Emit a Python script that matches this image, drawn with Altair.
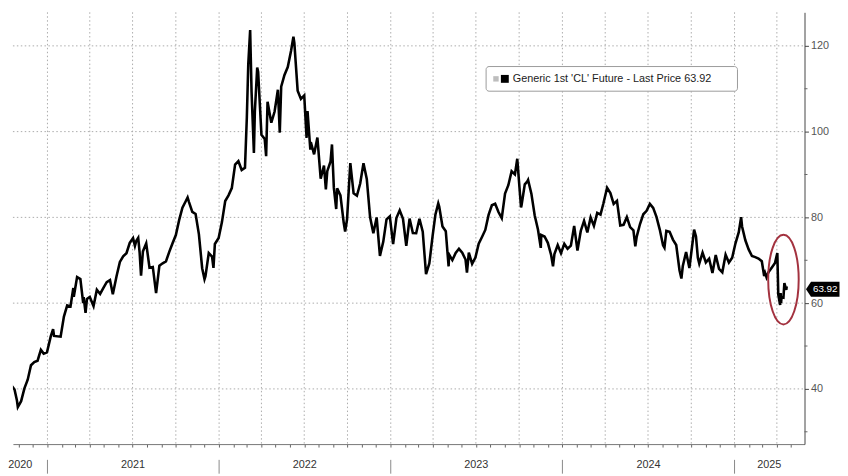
import altair as alt
import pandas as pd

# ---------------- data ----------------
dates_2020 = ["2020-10-02", "2020-10-09", "2020-10-16", "2020-10-23", "2020-10-28", "2020-10-30",
              "2020-11-06", "2020-11-13", "2020-11-20", "2020-11-27", "2020-12-04", "2020-12-11",
              "2020-12-18", "2020-12-24", "2020-12-31"]
prices_2020 = [37.05, 40.60, 40.88, 39.85, 37.39, 35.79,
               37.14, 40.13, 42.15, 45.53, 46.26, 46.57,
               49.10, 48.23, 48.52]

dates_2021 = ["2021-01-08", "2021-01-13", "2021-01-15", "2021-01-22", "2021-01-29", "2021-02-05",
              "2021-02-12", "2021-02-19", "2021-02-25", "2021-02-26", "2021-03-05", "2021-03-12",
              "2021-03-18", "2021-03-19", "2021-03-23", "2021-03-26", "2021-04-01", "2021-04-09",
              "2021-04-16", "2021-04-23", "2021-04-30", "2021-05-07", "2021-05-14", "2021-05-20",
              "2021-05-28", "2021-06-04", "2021-06-11", "2021-06-18", "2021-06-25", "2021-07-02",
              "2021-07-06", "2021-07-09", "2021-07-13", "2021-07-16", "2021-07-19", "2021-07-23",
              "2021-07-30", "2021-08-06", "2021-08-13", "2021-08-20", "2021-08-27", "2021-09-03",
              "2021-09-10", "2021-09-17", "2021-09-24", "2021-10-01", "2021-10-08", "2021-10-15",
              "2021-10-22", "2021-10-26", "2021-10-29", "2021-11-05", "2021-11-12", "2021-11-19",
              "2021-11-26", "2021-12-01", "2021-12-03", "2021-12-10", "2021-12-17", "2021-12-20",
              "2021-12-23", "2021-12-31"]
prices_2021 = [52.24, 53.91, 52.36, 52.27, 52.20, 56.85,
               59.47, 59.24, 63.53, 61.50, 66.09, 65.61,
               60.00, 61.42, 57.76, 60.97, 61.45, 59.32,
               63.13, 62.14, 63.58, 64.90, 65.37, 62.05,
               66.32, 69.62, 70.91, 71.64, 74.05, 75.16,
               73.37, 74.56, 75.25, 71.81, 66.42, 72.07,
               73.95, 68.28, 68.44, 62.32, 68.74, 69.29,
               69.72, 71.97, 73.98, 75.88, 79.35, 82.28,
               83.76, 84.65, 83.57, 81.27, 80.79, 76.10,
               68.15, 65.57, 66.26, 71.67, 70.86, 68.23,
               73.79, 75.21]

dates_2022 = ["2022-01-07", "2022-01-14", "2022-01-21", "2022-01-28", "2022-02-04", "2022-02-11",
              "2022-02-18", "2022-02-25", "2022-03-01", "2022-03-04", "2022-03-08", "2022-03-11",
              "2022-03-16", "2022-03-18", "2022-03-23", "2022-03-25", "2022-04-01", "2022-04-08",
              "2022-04-11", "2022-04-14", "2022-04-22", "2022-04-29", "2022-05-06", "2022-05-10",
              "2022-05-13", "2022-05-20", "2022-05-27", "2022-06-03", "2022-06-08", "2022-06-10",
              "2022-06-17", "2022-06-24", "2022-07-01", "2022-07-06", "2022-07-08", "2022-07-14",
              "2022-07-15", "2022-07-22", "2022-07-29", "2022-08-05", "2022-08-12", "2022-08-16",
              "2022-08-19", "2022-08-26", "2022-08-29", "2022-09-02", "2022-09-07", "2022-09-09",
              "2022-09-16", "2022-09-23", "2022-09-26", "2022-09-30", "2022-10-07", "2022-10-14",
              "2022-10-21", "2022-10-28", "2022-11-04", "2022-11-11", "2022-11-18", "2022-11-25",
              "2022-12-02", "2022-12-09", "2022-12-16", "2022-12-23", "2022-12-30"]
prices_2022 = [78.90, 83.82, 85.14, 86.82, 92.31, 93.10,
               91.07, 91.59, 103.41, 115.68, 123.70, 109.33,
               95.04, 104.70, 114.93, 113.90, 99.27, 98.26,
               94.29, 106.95, 102.07, 104.69, 109.77, 99.76,
               110.49, 113.23, 115.07, 118.87, 122.11, 120.67,
               109.56, 107.62, 108.43, 98.53, 104.79, 95.78,
               97.59, 94.70, 98.62, 89.01, 92.09, 86.53,
               90.77, 93.06, 97.01, 86.87, 81.94, 86.79,
               85.11, 78.74, 76.71, 79.49, 92.64, 85.61,
               85.05, 87.90, 92.61, 88.96, 80.08, 76.28,
               79.98, 71.02, 74.29, 79.56, 80.26]

dates_2023 = ["2023-01-06", "2023-01-13", "2023-01-20", "2023-01-27", "2023-02-03", "2023-02-10",
              "2023-02-17", "2023-02-24", "2023-03-03", "2023-03-10", "2023-03-17", "2023-03-24",
              "2023-03-31", "2023-04-06", "2023-04-12", "2023-04-14", "2023-04-21", "2023-04-28",
              "2023-05-04", "2023-05-05", "2023-05-12", "2023-05-19", "2023-05-26", "2023-06-02",
              "2023-06-09", "2023-06-12", "2023-06-16", "2023-06-23", "2023-06-30", "2023-07-07",
              "2023-07-14", "2023-07-21", "2023-07-28", "2023-08-04", "2023-08-11", "2023-08-18",
              "2023-08-25", "2023-09-01", "2023-09-08", "2023-09-15", "2023-09-22", "2023-09-27",
              "2023-09-29", "2023-10-05", "2023-10-06", "2023-10-13", "2023-10-18", "2023-10-20",
              "2023-10-27", "2023-11-03", "2023-11-10", "2023-11-16", "2023-11-17", "2023-11-24",
              "2023-12-01", "2023-12-08", "2023-12-12", "2023-12-15", "2023-12-22", "2023-12-29"]
prices_2023 = [73.77, 79.86, 81.64, 79.68, 73.39, 79.72,
               76.34, 76.32, 79.68, 76.68, 66.74, 69.26,
               75.67, 80.70, 83.26, 82.52, 77.87, 76.78,
               68.56, 71.34, 70.04, 71.69, 72.67, 71.74,
               70.17, 67.12, 71.78, 69.16, 70.64, 73.86,
               75.42, 77.07, 80.58, 82.82, 83.19, 81.25,
               79.83, 85.55, 87.51, 90.77, 90.03, 93.68,
               90.79, 82.31, 82.79, 87.69, 88.32, 88.75,
               85.54, 80.51, 77.17, 72.90, 75.89, 75.54,
               74.07, 71.23, 68.61, 71.43, 73.56, 71.65]

dates_2024 = ["2024-01-05", "2024-01-12", "2024-01-19", "2024-01-26", "2024-02-02", "2024-02-09",
              "2024-02-16", "2024-02-23", "2024-03-01", "2024-03-08", "2024-03-15", "2024-03-22",
              "2024-03-28", "2024-04-05", "2024-04-12", "2024-04-19", "2024-04-26", "2024-05-03",
              "2024-05-10", "2024-05-17", "2024-05-24", "2024-05-31", "2024-06-04", "2024-06-07",
              "2024-06-14", "2024-06-21", "2024-06-28", "2024-07-05", "2024-07-12", "2024-07-19",
              "2024-07-26", "2024-08-02", "2024-08-05", "2024-08-09", "2024-08-16", "2024-08-23",
              "2024-08-30", "2024-09-06", "2024-09-10", "2024-09-13", "2024-09-20", "2024-09-27",
              "2024-10-04", "2024-10-07", "2024-10-11", "2024-10-15", "2024-10-18", "2024-10-25",
              "2024-11-01", "2024-11-08", "2024-11-15", "2024-11-22", "2024-11-29", "2024-12-06",
              "2024-12-13", "2024-12-20", "2024-12-27"]
prices_2024 = [73.81, 72.68, 73.41, 78.01, 72.28, 76.84,
               79.19, 76.49, 79.97, 78.01, 81.04, 80.63,
               83.17, 86.91, 85.66, 83.14, 83.85, 78.11,
               78.26, 80.06, 77.72, 76.99, 73.25, 75.53,
               78.45, 80.73, 81.54, 83.16, 82.21, 80.13,
               77.16, 73.52, 72.94, 76.84, 76.65, 74.83,
               73.55, 67.67, 65.75, 68.65, 71.92, 68.18,
               74.38, 77.14, 75.56, 70.58, 69.22, 71.78,
               69.49, 70.38, 67.02, 71.24, 68.00, 67.20,
               71.29, 69.46, 70.60]

dates_2025 = ["2025-01-03", "2025-01-10", "2025-01-15", "2025-01-17", "2025-01-24", "2025-01-31",
              "2025-02-07", "2025-02-14", "2025-02-21", "2025-02-28", "2025-03-05", "2025-03-07",
              "2025-03-10", "2025-03-14", "2025-03-21", "2025-03-28", "2025-04-02", "2025-04-03",
              "2025-04-04", "2025-04-08", "2025-04-09", "2025-04-10", "2025-04-11", "2025-04-15",
              "2025-04-17", "2025-04-21", "2025-04-22"]
prices_2025 = [73.96, 76.57, 80.04, 77.88, 74.66, 72.53,
               71.00, 70.74, 70.40, 69.76, 66.31, 67.04,
               66.03, 67.18, 68.28, 69.36, 71.71, 66.95,
               61.99, 59.58, 62.35, 60.07, 61.50, 61.33,
               64.68, 63.08, 63.92]

last_price = 63.92
series_name = "Generic 1st 'CL' Future - Last Price 63.92"

y_major = [40, 60, 80, 100, 120]
y_minor = [30, 50, 70, 90, 110]
year_starts = ["2021-01-01", "2022-01-01", "2023-01-01", "2024-01-01", "2025-01-01"]
quarter_starts = ["2021-01-01", "2021-04-01", "2021-07-01", "2021-10-01",
                  "2022-01-01", "2022-04-01", "2022-07-01", "2022-10-01",
                  "2023-01-01", "2023-04-01", "2023-07-01", "2023-10-01",
                  "2024-01-01", "2024-04-01", "2024-07-01", "2024-10-01",
                  "2025-01-01", "2025-04-01"]
year_labels = ["2020", "2021", "2022", "2023", "2024", "2025"]
year_label_dates = ["2020-11-04", "2021-07-02", "2022-07-02", "2023-07-02", "2024-07-02", "2025-03-16"]
circle_date = "2025-04-15"
circle_value = 65.5

# ---------------- frames ----------------
dates = dates_2020 + dates_2021 + dates_2022 + dates_2023 + dates_2024 + dates_2025
prices = prices_2020 + prices_2021 + prices_2022 + prices_2023 + prices_2024 + prices_2025
df = pd.DataFrame({"date": dates, "price": prices})

month_ticks = pd.date_range("2020-11-01", "2025-05-01", freq="MS", tz="UTC")
month_ms = [int(t.value // 10**6) for t in month_ticks]
grid_df = pd.DataFrame({"qd": quarter_starts})
hgrid_df = pd.DataFrame({"gv": y_major})
sep_df = pd.DataFrame({"sd": year_starts})
lab_df = pd.DataFrame({"ld": year_label_dates, "t": year_labels})
minor_df = pd.DataFrame({"mv": y_minor})
tag_df = pd.DataFrame({"tv": [last_price], "t": [f"{last_price:.2f}"]})
circ_df = pd.DataFrame({"cd": [circle_date], "cv": [circle_value]})
leg_df = pd.DataFrame({"t": [series_name]})

W, H = 803, 438
x0 = int(pd.Timestamp("2020-10-19 14:00", tz="UTC").value // 10**6)
x1 = int(pd.Timestamp("2025-05-29 19:00", tz="UTC").value // 10**6)
xscale = alt.Scale(type="utc", domain=[x0, x1])
yscale = alt.Scale(domain=[27.13, 127.82], zero=False, nice=False)

FONT = "Liberation Sans"
GRID = "#ababab"
DOTS = [1.5, 2.5]

xaxis = alt.Axis(values=month_ms, labels=False, grid=False, title=None, tickSize=3,
                 tickColor="#666", domainColor="#777", orient="bottom")
yaxis = alt.Axis(values=y_major, orient="right", grid=False,
                 title=None, tickSize=4, tickColor="#444", domainColor="#444",
                 labelFont=FONT, labelFontSize=11, labelColor="#555555", labelPadding=2)


def X(field):
    return alt.X(field, scale=xscale, axis=xaxis, title=None)


def Y(field):
    return alt.Y(field, scale=yscale, axis=yaxis, title=None)


vgrid = alt.Chart(grid_df).mark_rule(color=GRID, strokeWidth=1).encode(
    x=X("qd:T"), y=alt.value(0), y2=alt.value(H), strokeDash=alt.value(DOTS))
hgrid = alt.Chart(hgrid_df).mark_rule(color=GRID, strokeWidth=1).encode(
    y=Y("gv:Q"), x=alt.value(0), x2=alt.value(W), strokeDash=alt.value(DOTS))

line = alt.Chart(df).mark_line(color="black", strokeWidth=2.6, clip=True).encode(
    x=X("date:T"), y=Y("price:Q"))

seps = alt.Chart(sep_df).mark_rule(color="#888", strokeWidth=1).encode(
    x=X("sd:T"), y=alt.value(H + 16), y2=alt.value(H + 30))

labels = alt.Chart(lab_df).mark_text(font=FONT, fontSize=11, color="#333", baseline="middle").encode(
    x=X("ld:T"), y=alt.value(H + 21), text="t:N")

minor = alt.Chart(minor_df).mark_rule(color="#666", strokeWidth=1).encode(
    y=Y("mv:Q"), x=alt.value(W), x2=alt.value(W + 3))

leg_box = alt.Chart(leg_df).mark_rect(fill="white", stroke="#9a9a9a", strokeWidth=1, cornerRadius=3).encode(
    x=alt.value(480), x2=alt.value(735), y=alt.value(55), y2=alt.value(80))
leg_sq1 = alt.Chart(leg_df).mark_point(shape="square", filled=True, color="#bdbdbd", opacity=1, size=30).encode(
    x=alt.value(490), y=alt.value(67.5))
leg_sq2 = alt.Chart(leg_df).mark_point(shape="square", filled=True, color="black", opacity=1, size=64).encode(
    x=alt.value(499), y=alt.value(67.5))
leg_txt = alt.Chart(leg_df).mark_text(font=FONT, fontSize=11, color="#222", align="left", baseline="middle").encode(
    x=alt.value(507), y=alt.value(67.5), text="t:N")

TAG = "M-1,0 L-0.7,-0.45 L1,-0.45 L1,0.45 L-0.7,0.45 Z"
tag = alt.Chart(tag_df).mark_point(shape=TAG, filled=True, color="black", opacity=1, size=1156, yOffset=3).encode(
    x=alt.value(821.5), y=Y("tv:Q"))
tag_txt = alt.Chart(tag_df).mark_text(font=FONT, fontSize=10, color="white", baseline="middle", yOffset=3).encode(
    x=alt.value(824), y=Y("tv:Q"), text="t:N")

ELL = "M0,-1 A0.34,1 0 1,1 0,1 A0.34,1 0 1,1 0,-1 Z"
ellipse = alt.Chart(circ_df).mark_point(shape=ELL, filled=False, stroke="#a3323f", strokeWidth=2,
                                        opacity=1, size=8281).encode(x=X("cd:T"), y=Y("cv:Q"))

chart = alt.layer(vgrid, hgrid, line, seps, labels, minor, leg_box, leg_sq1, leg_sq2, leg_txt,
                  tag, tag_txt, ellipse).properties(
    width=W, height=H, padding=0, background="white"
).configure_view(stroke=None)

chart.save("out.html", embed_options={"renderer": "svg", "actions": False})
